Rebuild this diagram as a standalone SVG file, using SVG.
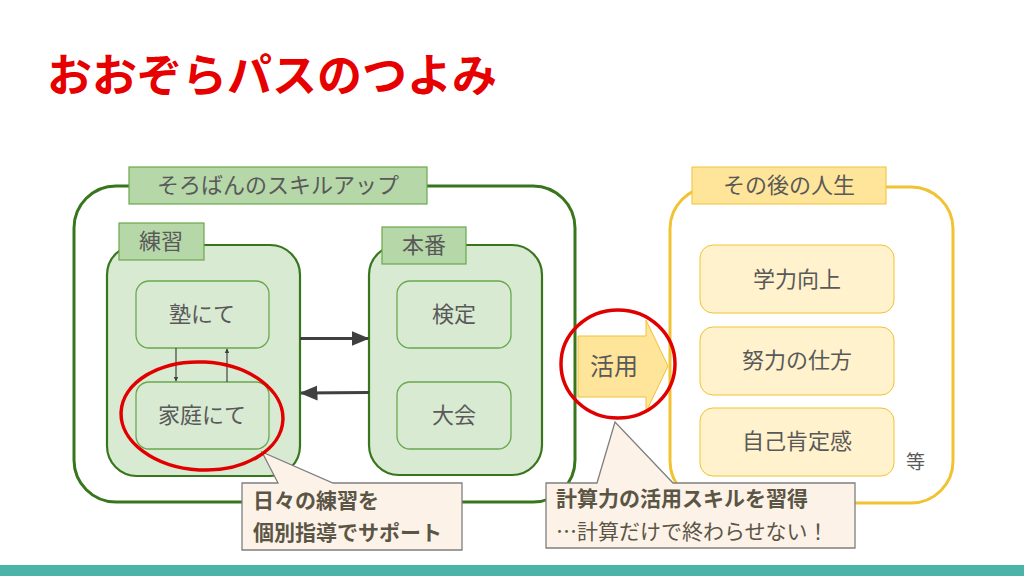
<svg xmlns="http://www.w3.org/2000/svg" width="1024" height="576" viewBox="0 0 1024 576">
<defs>
<style>
text{font-family:"Noto Sans CJK JP","Noto Sans",sans-serif;fill:#595959}
.title{font-size:45px;font-weight:bold;fill:#e60000}
.lbl{font-size:22px}
.gbox{fill:#d9ead3;stroke:#38761d;stroke-width:2.2}
.gtag{fill:#b6d7a8;stroke:#6aa84f;stroke-width:1.2}
.gitem{fill:#d9ead3;stroke:#6aa84f;stroke-width:1.3}
.ytag{fill:#ffe599;stroke:#f1c232;stroke-width:1}
.yitem{fill:#fff2cc;stroke:#f1c232;stroke-width:1}
.call{fill:#fcf2e8;stroke:#7f7f7f;stroke-width:1.3}
.ctext{font-size:21px;fill:#5b5545}
.ring{fill:none;stroke:#e00000;stroke-width:3.5}
.thin{stroke:#404040;stroke-width:1.2;fill:none}
.thick{stroke:#404040;stroke-width:3;fill:none}
</style>
<marker id="ah" markerWidth="4" markerHeight="4" refX="3.5" refY="2" orient="auto" markerUnits="strokeWidth"><path d="M0,0 L4,2 L0,4 z" fill="#404040"/></marker>
<marker id="as" markerWidth="6" markerHeight="6" refX="5.5" refY="3" orient="auto" markerUnits="strokeWidth"><path d="M0,0.5 L6,3 L0,5.5 z" fill="#404040"/></marker>
</defs>
<rect width="1024" height="576" fill="#ffffff"/>
<text class="title" x="47" y="92">おおぞらパスのつよみ</text>

<g id="skillup">
<rect x="74" y="186" width="501" height="316" rx="42" fill="none" stroke="#38761d" stroke-width="3"/>
<rect class="gtag" x="129" y="167" width="298" height="37"/>
<text class="lbl" x="278" y="193" text-anchor="middle">そろばんのスキルアップ</text>
</g>

<g id="practice">
<rect class="gbox" x="107" y="245" width="193" height="231" rx="30"/>
<rect class="gtag" x="119" y="223" width="85" height="37"/>
<text class="lbl" x="161" y="249" text-anchor="middle">練習</text>
</g>
<g id="juku">
<rect class="gitem" x="136" y="281" width="133" height="67" rx="13"/>
<text class="lbl" x="202" y="322" text-anchor="middle">塾にて</text>
</g>
<g id="katei">
<rect class="gitem" x="136" y="382" width="133" height="67" rx="13"/>
<text class="lbl" x="202" y="423" text-anchor="middle">家庭にて</text>
</g>

<g id="honban">
<rect class="gbox" x="369" y="245" width="173" height="230" rx="30"/>
<rect class="gtag" x="382" y="227" width="84" height="37"/>
<text class="lbl" x="424" y="253" text-anchor="middle">本番</text>
</g>
<g id="kentei">
<rect class="gitem" x="397" y="281" width="114" height="67" rx="13"/>
<text class="lbl" x="454" y="322" text-anchor="middle">検定</text>
</g>
<g id="taikai">
<rect class="gitem" x="397" y="382" width="114" height="67" rx="13"/>
<text class="lbl" x="454" y="423" text-anchor="middle">大会</text>
</g>

<g id="connectors">
<line class="thin" x1="176" y1="348" x2="176" y2="381" marker-end="url(#ah)"/>
<line class="thin" x1="227" y1="382" x2="227" y2="349" marker-end="url(#ah)"/>
<line class="thick" x1="300" y1="338.5" x2="368" y2="338.5" marker-end="url(#as)"/>
<line class="thick" x1="369" y1="392.5" x2="301" y2="393" marker-end="url(#as)"/>
</g>

<g id="katsuyou">
<path d="M578,336 L646,336 L646,320 L668,366 L646,412 L646,397 L578,397 Z" fill="#ffe599" stroke="#f1c232" stroke-width="1"/>
<text x="614" y="375" font-size="24" text-anchor="middle">活用</text>
</g>

<g id="jinsei">
<rect x="670" y="187" width="283" height="316" rx="42" fill="none" stroke="#f1c232" stroke-width="3"/>
<rect class="ytag" x="692" y="167" width="194" height="37"/>
<text class="lbl" x="789" y="193" text-anchor="middle">その後の人生</text>
</g>
<g id="gakuryoku">
<rect class="yitem" x="700" y="245" width="194" height="68" rx="13"/>
<text class="lbl" x="797" y="287" text-anchor="middle">学力向上</text>
</g>
<g id="doryoku">
<rect class="yitem" x="700" y="327" width="194" height="68" rx="13"/>
<text class="lbl" x="797" y="368" text-anchor="middle">努力の仕方</text>
</g>
<g id="jiko">
<rect class="yitem" x="700" y="408" width="194" height="68" rx="13"/>
<text class="lbl" x="797" y="449" text-anchor="middle">自己肯定感</text>
</g>
<text x="906" y="469" font-size="19">等</text>

<g id="callout1">
<path class="call" d="M242,483 L278,483 L262,452 L333,483 L462,483 L462,550 L242,550 Z"/>
<text class="ctext" x="253" y="508" font-weight="bold">日々の練習を</text>
<text class="ctext" x="253" y="540" font-weight="bold">個別指導でサポート</text>
</g>
<g id="callout2">
<path class="call" d="M546,483 L597,483 L615,422 L673,483 L855,483 L855,548 L546,548 Z"/>
<text class="ctext" x="556" y="506" font-weight="bold">計算力の活用スキルを習得</text>
<text class="ctext" x="556" y="539">…計算だけで終わらせない！</text>
</g>

<ellipse class="ring" cx="202" cy="416" rx="81" ry="54" transform="rotate(3 202 416)"/>
<ellipse class="ring" cx="618" cy="364" rx="57" ry="54"/>

<rect x="0" y="565" width="1024" height="11" fill="#4bb3a8"/>
</svg>
